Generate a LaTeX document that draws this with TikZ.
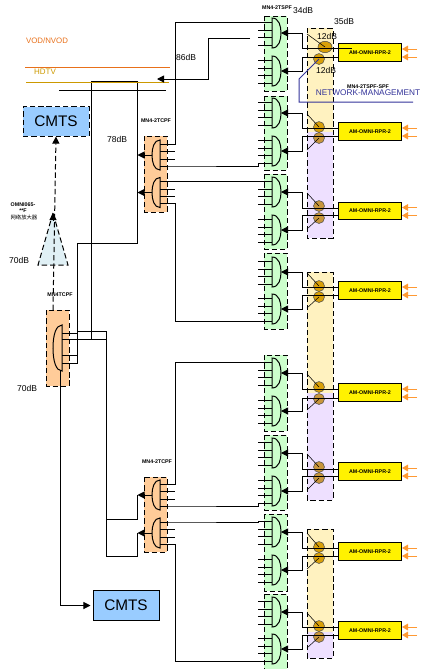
\documentclass[tikz,border=0pt]{standalone}
\usepackage{fontspec}
\usepackage{xcolor}
\setmainfont{Liberation Sans}
\newfontfamily\cjk{Noto Sans CJK SC}
\usetikzlibrary{arrows.meta,shapes.geometric}
\definecolor{greenfill}{HTML}{CCFFCC}
\definecolor{orangefill}{HTML}{FFCC99}
\definecolor{bandyellow}{HTML}{FFF2C0}
\definecolor{bandpurple}{HTML}{EEE0FF}
\definecolor{cmtsfill}{HTML}{99CCFF}
\definecolor{trifill}{HTML}{E0F0F5}
\definecolor{splitgold}{HTML}{D9A008}
\definecolor{splittan}{HTML}{C8963C}
\definecolor{inorange}{HTML}{FF9933}
\definecolor{vodline}{HTML}{E8701A}
\definecolor{hdline}{HTML}{CC9900}
\definecolor{mgmtblue}{HTML}{333399}

\begin{document}
\begin{tikzpicture}[x=.75pt,y=-.75pt,line width=.75pt,
  lbl/.style={font=\fontsize{6.4}{7}\selectfont,inner sep=0pt},
  tiny/.style={font=\fontsize{4}{5}\selectfont\bfseries,inner sep=0pt},
  amp/.style={draw,fill=yellow,minimum width=47.6pt,minimum height=12.8pt,inner sep=0pt,
              font=\fontsize{4}{5}\selectfont\bfseries},
  cmts/.style={draw,fill=cmtsfill,minimum width=49.5pt,minimum height=21.8pt,inner sep=0pt,
               font=\fontsize{11.5}{13}\selectfont},
  dbox/.style={dash pattern=on 4pt off 2.2pt},
  e/.style={-{Triangle[length=5.3pt,width=5.3pt]}},
  ein/.style={-{Triangle[length=4.5pt,width=5pt]},inorange},
  split/.style={draw=black!70,line width=.4pt,fill=#1}]
  \useasboundingbox (0,0) rectangle (429,669);
  % bands behind the splitters
  \foreach \t/\m/\b in {28/132/238,272/393/500,529/632/658}{
    \fill[bandyellow] (307,\t) rectangle (333,\m);
    \fill[bandpurple] (307,\m) rectangle (333,\b);
    \draw[dbox] (307,\t) rectangle (333,\b);
  }
  % filter groups
  \foreach \t/\b in {16/91,96/170,174/249,253/329,355/431,435/510,514/591,594/669}
    \draw[dbox,fill=greenfill] (264,\t) rectangle (287,\b);
  \draw[dbox,fill=orangefill] (144,136) rectangle (167,212);
  \draw[dbox,fill=orangefill] (144,477) rectangle (167,552);
  \draw[dbox,fill=orangefill] (46,310) rectangle (69,386);

  % one amplifier with its two filters and splitters
  \foreach \i/\c/\ga/\gb/\la/\lb/\sa/\sb/\ca/\cb in {
    1/52.5/33/71/48/57/47/59/splitgold/splitgold,
    2/131.5/113/151/128/136/127/138/splitgold/splittan,
    3/211/192/230/208/215/206/218/splittan/splittan,
    4/290.5/272/309/287/295/286/297/splitgold/splitgold,
    5/392.5/373/411/389/398/387/399/splitgold/splittan,
    6/471.5/453/491/469/476/467/478/splittan/splittan,
    7/551.5/532/570/548/556/547/558/splitgold/splitgold,
    8/630.5/612/649/627/635/626/637/splitgold/splittan}{
    \node[amp] (amp\i) at (370,\c) {AM-OMNI-RPR-2};
    \coordinate (la\i) at (338,\la);
    \coordinate (lb\i) at (338,\lb);
    \coordinate (gu\i) at (281,\ga);
    \coordinate (gl\i) at (281,\gb);
    \coordinate (in\i) at (258,\ga-11);
    \coordinate (il\i) at (258,\gb+12);
    \ifnum\i=1
      \node[split=\ca,ellipse,minimum width=10.5pt,minimum height=8.5pt,inner sep=0pt] (sa\i) at (325,\sa) {};
    \else
      \node[split=\ca,circle,minimum size=8.2pt,inner sep=0pt] (sa\i) at (319,\sa) {};
    \fi
    \node[split=\cb,circle,minimum size=8.2pt,inner sep=0pt] (sb\i) at (319,\sb) {};
    \foreach \y in {\ga,\gb}{
      \draw (272,\y-15) .. controls (279,\y-15) and (281,\y-7) .. (281,\y)
        .. controls (281,\y+7) and (279,\y+15) .. (272,\y+15) -- cycle;
      \foreach \d in {-11,-3,4,12} \draw (258,\y+\d) -- (272,\y+\d);
    }
    \draw[e] (la\i) -- (302,\la) -- (302,\ga) -- (gu\i);
    \draw[e] (lb\i) -- (302,\lb) -- (302,\gb) -- (gl\i);
    \draw[line width=.4pt] (307,\ga+1) -- (sa\i.center);
    \ifnum\i>1 \draw[line width=.4pt] (307,\gb-1) -- (sb\i.center); \fi
    \draw[ein] (417,\c-3.5) -- (402,\c-3.5);
    \draw[ein] (417,\c+4.5) -- (402,\c+4.5);
  }
  \draw (la1) -- (352,48);

  % two-way filters
  \foreach \n/\y in {1/155,2/192.5,3/495,4/533}{
    \draw (160,\y-15) .. controls (154,\y-15) and (152,\y-7) .. (152,\y)
      .. controls (152,\y+7) and (154,\y+15) .. (160,\y+15) -- cycle;
    \foreach \d in {-3.5,4} \draw (160,\y+\d) -- (175,\y+\d);
    \coordinate (q\n a) at (175,\y-11);
    \coordinate (q\n d) at (175,\y+11);
    \coordinate (p\n) at (137.5,\y);
    \draw[e] (152,\y) -- (p\n);
  }
  \draw (160,144) -- (q1a) |- (in1);
  \draw (160,166) -- (q1d) -| (il2);
  \draw (160,181.5) -- (q2a) -| (in3);
  \draw (160,203.5) -- (q2d) |- (il4);
  \draw (160,484) -- (q3a) |- (in5);
  \draw (160,506) -- (q3d) -| (il6);
  \draw (160,522) -- (q4a) -| (in7);
  \draw (160,544) -- (q4d) |- (il8);

  % head end, line side
  \draw (62,325) .. controls (56,325) and (53,335) .. (53,348)
    .. controls (53,361) and (56,371) .. (62,371) -- cycle;
  \coordinate (m1) at (77,333);
  \coordinate (m2) at (106,339);
  \coordinate (m3) at (77,355);
  \coordinate (m4) at (77,363);
  \coordinate (bt1) at (91,81);
  \coordinate (bt2) at (137,81);
  \draw (62,333) -- (m1);
  \draw (62,339) -- (m2);
  \draw (62,355) -- (m3);
  \draw (62,363) -- (m4) -- (77,243) -- (137,243) -- (bt2) -- (bt1) -- (91,339);
  \draw (77,331) -- (106,331) -- (106,556) -| (p4);
  \draw (106,519) -| (p3);

  % service lines
  \coordinate (vodl) at (25,67);
  \coordinate (vodr) at (170,67);
  \coordinate (hdl) at (26,82);
  \coordinate (hdr) at (169,82);
  \coordinate (bkl) at (59,90);
  \coordinate (bkr) at (166,90);
  \coordinate (feed) at (250,38);
  \coordinate (tap) at (157,79);
  \draw[vodline] (vodl) -- (vodr);
  \draw[hdline] (hdl) -- (hdr);
  \draw (bkl) -- (bkr);
  \draw[e] (feed) -| (208,79) -- (tap);
  \node[lbl,text=vodline,font=\fontsize{5.9}{7}\selectfont] (vod) at (47,41) {VOD/NVOD};
  \node[lbl,text=hdline,font=\fontsize{6}{7}\selectfont] (hd) at (45,72) {HDTV};

  % CMTS and amplifier
  \node[cmts,dbox] (cm1) at (56,121.5) {CMTS};
  \node[cmts] (cm2) at (126,605.5) {CMTS};
  \draw[dbox,fill=trifill] (53,213) -- (38,265) -- (68,265) -- cycle;
  \coordinate (mn) at (53,310);
  \coordinate (apex) at (53,213);
  \draw[dbox,e] (mn) -- (cm1.south);
  \draw[e] (53,220) -- (apex);
  \draw[e,shorten >=1.5pt] (60,371) |- (cm2.west);

  % network management
  \coordinate (nm1) at (299,79);
  \coordinate (nm2) at (413,102);
  \draw[mgmtblue] (sb1.center) -- (nm1) |- (nm2);
  \node[tiny] (mnb) at (368,86.5) {MN4-2TSPF-SPF};
  \node[lbl,text=mgmtblue,font=\fontsize{6.2}{7}\selectfont] (nmt) at (368,93) {NETWORK-MANAGEMENT};

  % labels
  \node[tiny] (t1) at (156,121) {MN4-2TCPF};
  \node[tiny] (t2) at (157,462) {MN4-2TCPF};
  \node[tiny] (t3) at (60,295) {MN4TCPF};
  \node[tiny] (t4) at (277,8) {MN4-2TSPF};
  \node[tiny] (t5) at (23,205) {OMNI065-};
  \node[tiny] (t6) at (23,211) {**F};
  \node[tiny,font=\fontsize{4}{5}\cjk] (t7) at (24,217) {网络放大器};
  \node[lbl] (d1) at (303,10) {34dB};
  \node[lbl] (d2) at (344,21) {35dB};
  \node[lbl] (d3) at (327,36) {12dB};
  \node[lbl] (d4) at (326,70) {12dB};
  \node[lbl] (d5) at (186,57) {86dB};
  \node[lbl] (d6) at (117,139) {78dB};
  \node[lbl] (d7) at (19,260) {70dB};
  \node[lbl] (d8) at (27,388) {70dB};
\end{tikzpicture}
\end{document}
